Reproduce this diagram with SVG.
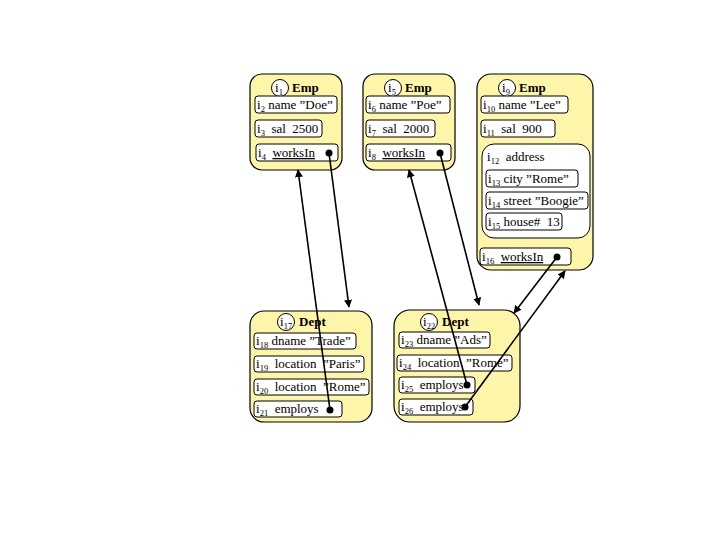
<svg xmlns="http://www.w3.org/2000/svg" width="720" height="540" viewBox="0 0 720 540" xml:space="preserve">
<defs>
<style>
.obj{fill:#fdf6a8;stroke:#000;stroke-width:1.2}
.fld{fill:#fff;stroke:#000;stroke-width:1}
.t{font-family:"Liberation Serif","Times New Roman",serif;font-size:13px;fill:#000;white-space:pre}
.h{font-family:"Liberation Serif","Times New Roman",serif;font-size:13px;font-weight:bold;fill:#000}
.s{font-size:8.5px}
.u{text-decoration:underline}
.c{fill:#fff;stroke:#000;stroke-width:1}
.dot{fill:#000}
.ln{stroke:#000;stroke-width:1.6;fill:none;marker-end:url(#ah)}
</style>
<marker id="ah" viewBox="0 0 10 10" refX="9" refY="5" markerWidth="5" markerHeight="5" orient="auto" markerUnits="strokeWidth">
<path d="M0,0 L10,5 L0,10 z" fill="#000"/>
</marker>
</defs>
<rect width="720" height="540" fill="#fff"/>

<g id="emp1">
<rect class="obj" x="250" y="74" width="92" height="96" rx="12"/>
<circle class="c" cx="280" cy="88" r="8.5"/>
<text class="t" x="275" y="92">i<tspan class="s" dy="3">1</tspan></text>
<text class="h" x="292" y="92">Emp</text>
<rect class="fld" x="255" y="96" width="82" height="17" rx="3"/>
<text class="t" x="257" y="109">i<tspan class="s" dy="3">2</tspan><tspan dy="-3"> name ”Doe”</tspan></text>
<rect class="fld" x="255" y="120" width="67" height="17" rx="3"/>
<text class="t" x="257" y="133">i<tspan class="s" dy="3">3</tspan><tspan dy="-3">  sal  2500</tspan></text>
<rect class="fld" x="256" y="144" width="82" height="17" rx="3"/>
<text class="t" x="258" y="157">i<tspan class="s" dy="3">4</tspan><tspan dy="-3">  </tspan><tspan class="u">worksIn</tspan></text>
<circle class="dot" cx="329" cy="153" r="3.5"/>
</g>

<g id="emp2">
<rect class="obj" x="363" y="74" width="92" height="96" rx="12"/>
<circle class="c" cx="393" cy="88" r="8.5"/>
<text class="t" x="388" y="92">i<tspan class="s" dy="3">5</tspan></text>
<text class="h" x="405" y="92">Emp</text>
<rect class="fld" x="366" y="96" width="84" height="17" rx="3"/>
<text class="t" x="368" y="109">i<tspan class="s" dy="3">6</tspan><tspan dy="-3"> name ”Poe”</tspan></text>
<rect class="fld" x="366" y="120" width="69" height="17" rx="3"/>
<text class="t" x="368" y="133">i<tspan class="s" dy="3">7</tspan><tspan dy="-3">  sal  2000</tspan></text>
<rect class="fld" x="366" y="144" width="85" height="17" rx="3"/>
<text class="t" x="368" y="157">i<tspan class="s" dy="3">8</tspan><tspan dy="-3">  </tspan><tspan class="u">worksIn</tspan></text>
<circle class="dot" cx="440" cy="153" r="3.5"/>
</g>

<g id="emp3">
<rect class="obj" x="477" y="74" width="116" height="196" rx="14"/>
<circle class="c" cx="507" cy="88" r="8.5"/>
<text class="t" x="502" y="92">i<tspan class="s" dy="3">9</tspan></text>
<text class="h" x="519" y="92">Emp</text>
<rect class="fld" x="481" y="96" width="87" height="17" rx="3"/>
<text class="t" x="483" y="109">i<tspan class="s" dy="3">10</tspan><tspan dy="-3"> name ”Lee”</tspan></text>
<rect class="fld" x="481" y="120" width="74" height="17" rx="3"/>
<text class="t" x="483" y="133">i<tspan class="s" dy="3">11</tspan><tspan dy="-3">  sal  900</tspan></text>
<g id="address">
<rect class="fld" x="482" y="144" width="108" height="94" rx="12"/>
<text class="t" x="487" y="161">i<tspan class="s" dy="3">12</tspan><tspan dy="-3">  address</tspan></text>
<rect class="fld" x="486" y="170" width="92" height="17" rx="3"/>
<text class="t" x="488" y="183">i<tspan class="s" dy="3">13</tspan><tspan dy="-3"> city ”Rome”</tspan></text>
<rect class="fld" x="486" y="192" width="102" height="17" rx="3"/>
<text class="t" x="488" y="205">i<tspan class="s" dy="3">14</tspan><tspan dy="-3"> street ”Boogie”</tspan></text>
<rect class="fld" x="486" y="213" width="76" height="17" rx="3"/>
<text class="t" x="488" y="226">i<tspan class="s" dy="3">15</tspan><tspan dy="-3"> house#  13</tspan></text>
</g>
<rect class="fld" x="480" y="248" width="91" height="17" rx="3"/>
<text class="t" x="482" y="261">i<tspan class="s" dy="3">16</tspan><tspan dy="-3">  </tspan><tspan class="u">worksIn</tspan></text>
<circle class="dot" cx="557" cy="257" r="3.5"/>
</g>

<g id="dept1">
<rect class="obj" x="250" y="311" width="122" height="111" rx="14"/>
<circle class="c" cx="286" cy="322" r="8.5"/>
<text class="t" x="280" y="326">i<tspan class="s" dy="3">17</tspan></text>
<text class="h" x="299" y="326">Dept</text>
<rect class="fld" x="254" y="333" width="102" height="16" rx="3"/>
<text class="t" x="256" y="345">i<tspan class="s" dy="3">18</tspan><tspan dy="-3"> dname ”Trade”</tspan></text>
<rect class="fld" x="254" y="356" width="110" height="16" rx="3"/>
<text class="t" x="256" y="368">i<tspan class="s" dy="3">19</tspan><tspan dy="-3">  location  ”Paris”</tspan></text>
<rect class="fld" x="254" y="379" width="115" height="16" rx="3"/>
<text class="t" x="256" y="391">i<tspan class="s" dy="3">20</tspan><tspan dy="-3">  location  ”Rome”</tspan></text>
<rect class="fld" x="254" y="401" width="88" height="16" rx="3"/>
<text class="t" x="256" y="413">i<tspan class="s" dy="3">21</tspan><tspan dy="-3">  employs</tspan></text>
<circle class="dot" cx="330" cy="410" r="3.5"/>
</g>

<g id="dept2">
<rect class="obj" x="394" y="310" width="126" height="112" rx="16"/>
<circle class="c" cx="429" cy="322" r="8.5"/>
<text class="t" x="423" y="326">i<tspan class="s" dy="3">22</tspan></text>
<text class="h" x="442" y="326">Dept</text>
<rect class="fld" x="399" y="332" width="91" height="16" rx="3"/>
<text class="t" x="401" y="344">i<tspan class="s" dy="3">23</tspan><tspan dy="-3"> dname ”Ads”</tspan></text>
<rect class="fld" x="397" y="355" width="115" height="16" rx="3"/>
<text class="t" x="399" y="367">i<tspan class="s" dy="3">24</tspan><tspan dy="-3">  location  ”Rome”</tspan></text>
<rect class="fld" x="399" y="377" width="76" height="16" rx="3"/>
<text class="t" x="401" y="389">i<tspan class="s" dy="3">25</tspan><tspan dy="-3">  employs</tspan></text>
<circle class="dot" cx="467" cy="385" r="3.5"/>
<rect class="fld" x="399" y="399" width="74" height="16" rx="3"/>
<text class="t" x="401" y="411">i<tspan class="s" dy="3">26</tspan><tspan dy="-3">  employs</tspan></text>
<circle class="dot" cx="465" cy="407" r="3.5"/>
</g>

<g id="connectors">
<line class="ln" x1="329" y1="153" x2="349" y2="307"/>
<line class="ln" x1="330" y1="410" x2="298" y2="170"/>
<line class="ln" x1="440" y1="153" x2="479" y2="305"/>
<line class="ln" x1="467" y1="385" x2="409" y2="170"/>
<line class="ln" x1="557" y1="257" x2="514" y2="313"/>
<line class="ln" x1="465" y1="407" x2="565" y2="271"/>
</g>
</svg>
